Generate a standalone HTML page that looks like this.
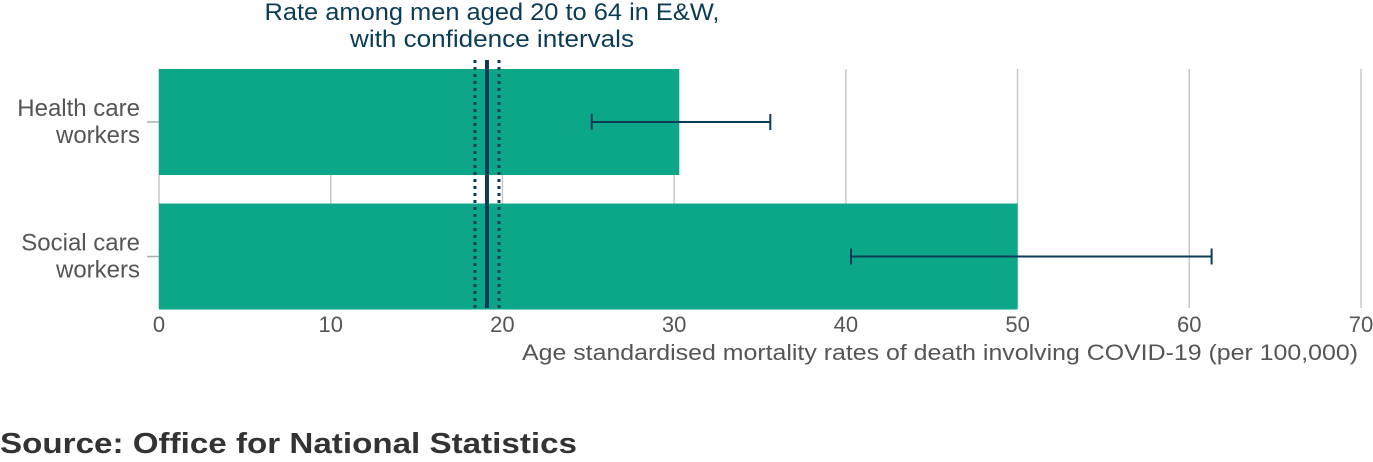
<!DOCTYPE html>
<html><head><meta charset="utf-8"><style>
body{margin:0;background:#fff;width:1373px;height:457px;overflow:hidden;font-family:"Liberation Sans",sans-serif}
</style></head><body>
<svg id="chart" width="1373" height="457" xmlns="http://www.w3.org/2000/svg" font-family="Liberation Sans, sans-serif"></svg>
<script>
const categories=["Health care workers","Social care workers"];
const labelLines=[["Health care","workers"],["Social care","workers"]];
const rates=[30.3,50.0];
const ciLow=[25.2,40.3];
const ciHigh=[35.6,61.3];
const refRate=19.1, refLow=18.4, refHigh=19.8;
const ticks=[0,10,20,30,40,50,60,70];

const svg=document.getElementById('chart');
const NS='http://www.w3.org/2000/svg';
const x0=159,x1=1361,xmax=70;
const xs=v=>x0+(x1-x0)*v/xmax;
const bandTop=69,bandH=133.5,barH=106;
const yc=i=>bandTop+bandH*i+barH/2+ (i?1:0);
function el(t,a,p){const e=document.createElementNS(NS,t);for(const k in a)e.setAttribute(k,a[k]);(p||svg).appendChild(e);return e;}

ticks.forEach(t=>{
  if(t>0){const g=el('line',{x1:xs(t),x2:xs(t),y1:69,y2:308,stroke:'#c8c8c8','stroke-width':1.5});
  
  }
  const tl=el('text',{x:xs(t),y:332,'text-anchor':'middle','font-size':22,fill:'#555'});tl.textContent=t;
  
  
});
const ax=el('line',{x1:x0,x2:x0,y1:69,y2:308,stroke:'#c8c8c8','stroke-width':1.5});



categories.forEach((c,i)=>{
  const y=yc(i);
  const b=el('rect',{x:x0,y:y-barH/2,width:xs(rates[i])-x0,height:barH,fill:'#0ca789'});
  
  
  const tk=el('line',{x1:147,x2:x0,y1:y,y2:y,stroke:'#aaa','stroke-width':1.5});
  
  
  const t=el('text',{x:140,'text-anchor':'end','font-size':24,fill:'#555'});
  
  
  labelLines[i].forEach((l,j)=>{const s=el('tspan',{x:140,y:y-6+j*27},t);s.textContent=l;});
  const g=el('g',{stroke:'#0b3c55','stroke-width':2});
  
  
  el('line',{x1:xs(ciLow[i]),x2:xs(ciHigh[i]),y1:y,y2:y},g);
  el('line',{x1:xs(ciLow[i]),x2:xs(ciLow[i]),y1:y-8,y2:y+8},g);
  el('line',{x1:xs(ciHigh[i]),x2:xs(ciHigh[i]),y1:y-8,y2:y+8},g);
});

const r=el('line',{x1:xs(refRate),x2:xs(refRate),y1:60,y2:308,stroke:'#0b3c55','stroke-width':4});


[refLow,refHigh].forEach((v,i)=>{const d=el('line',{x1:xs(v),x2:xs(v),y1:60,y2:308,stroke:'#0b3c55','stroke-width':3,'stroke-dasharray':'3,4'});

});

const at=el('text',{'text-anchor':'middle','font-size':24,fill:'#0b3c55'});


[["Rate among men aged 20 to 64 in E&W,",20,455],["with confidence intervals",47,284]].forEach(([s,y,w])=>{const t=el('tspan',{x:492,y:y,textLength:w,lengthAdjust:'spacingAndGlyphs'},at);t.textContent=s;});

const xt=el('text',{x:522,y:360,'font-size':22,fill:'#555',textLength:836,lengthAdjust:'spacingAndGlyphs'});
xt.textContent='Age standardised mortality rates of death involving COVID-19 (per 100,000)';


const src=el('text',{x:0,y:453,'font-size':29,'font-weight':'bold',fill:'#333',textLength:577,lengthAdjust:'spacingAndGlyphs'});
src.textContent='Source: Office for National Statistics';


</script>
</body></html>
